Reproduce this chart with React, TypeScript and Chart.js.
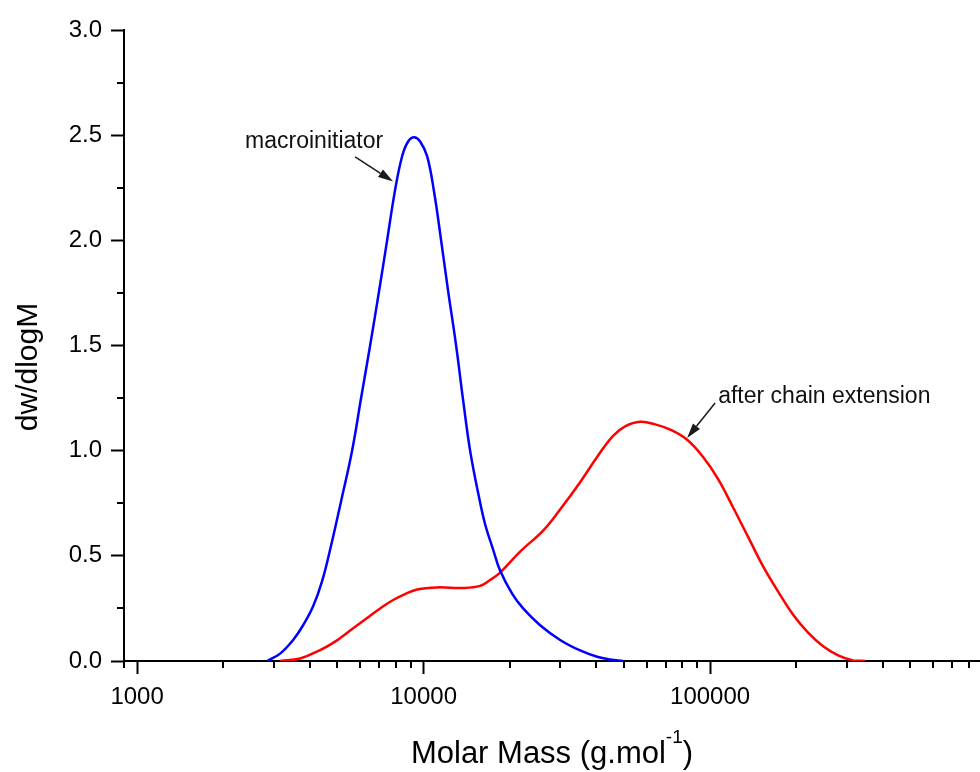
import { useEffect, useRef } from "react";
import { Chart, registerables } from "chart.js";

Chart.register(...registerables);

// GPC molar mass distributions (molar mass in g/mol, dw/dlogM)
const massMacro = [
  2843, 3156, 3504, 3797, 4115, 4423, 4718, 5152, 5628, 6050, 6506, 6994,
  7458, 7953, 8414, 8829, 9265, 9723, 10285, 10879, 11510, 12175, 12985, 13737,
  14531, 15496, 16393, 17483, 18493, 20367, 22250, 25507, 29953, 35178, 40326,
  44771, 49700,
];
const dwMacro = [
  0, 0.035, 0.1, 0.17, 0.26, 0.38, 0.53, 0.76, 1.0, 1.25, 1.5, 1.76,
  2.0, 2.24, 2.4, 2.47, 2.49, 2.47, 2.4, 2.23, 2.0, 1.76, 1.5, 1.24,
  1.0, 0.8, 0.65, 0.53, 0.43, 0.32, 0.25, 0.17, 0.1, 0.05, 0.02,
  0.007, 0,
];

const massExt = [
  3156, 3707, 4352, 4832, 5540, 6351, 7050, 7827, 8618, 9491, 11146, 13737,
  15746, 17068, 18493, 21717, 26132, 29953, 35178, 40326, 45849, 50498, 56986,
  64270, 72531, 83120, 94536, 106640, 120320, 135700, 153110, 172730, 194910,
  219780, 247990, 279800, 315600, 347500,
];
const dwExt = [
  0, 0.012, 0.052, 0.086, 0.145, 0.205, 0.25, 0.29, 0.318, 0.34, 0.35, 0.347,
  0.357, 0.385, 0.42, 0.52, 0.62, 0.72, 0.85, 0.97, 1.07, 1.115, 1.137,
  1.125, 1.1, 1.052, 0.97, 0.865, 0.73, 0.59, 0.45, 0.33, 0.22,
  0.135, 0.07, 0.027, 0.003, 0,
];

const xMajorTicks = [1000, 10000, 100000];
const yMajorTicks = [0, 0.5, 1.0, 1.5, 2.0, 2.5, 3.0];
const yMinorTicks = [0.25, 0.75, 1.25, 1.75, 2.25, 2.75];

const xTitleMain = "Molar Mass (g.mol";
const xTitleSup = "-1";
const xTitleEnd = ")";
const yTitle = "dw/dlogM";

const labelMacro = "macroinitiator";
const labelExt = "after chain extension";

const FONT = '"Liberation Sans", Arial, Helvetica, sans-serif';

// annotation anchors in data coordinates (molar mass, dw/dlogM)
const macroNote = { text: [2382, 2.44], tail: [5768, 2.397], tip: [7825, 2.28] };
const extNote = { text: [106700, 1.227], tail: [104100, 1.227], tip: [83130, 1.06] };

function drawArrow(ctx: CanvasRenderingContext2D, x1: number, y1: number, x2: number, y2: number) {
  const ang = Math.atan2(y2 - y1, x2 - x1);
  const headLen = 15;
  const headHalf = 4.5;
  const bx = x2 - headLen * Math.cos(ang);
  const by = y2 - headLen * Math.sin(ang);
  ctx.strokeStyle = "#1a1a1a";
  ctx.fillStyle = "#1a1a1a";
  ctx.lineWidth = 1.5;
  ctx.beginPath();
  ctx.moveTo(x1, y1);
  ctx.lineTo(bx, by);
  ctx.stroke();
  ctx.beginPath();
  ctx.moveTo(x2, y2);
  ctx.lineTo(bx + headHalf * Math.sin(ang), by - headHalf * Math.cos(ang));
  ctx.lineTo(bx - headHalf * Math.sin(ang), by + headHalf * Math.cos(ang));
  ctx.closePath();
  ctx.fill();
}

const decorations = {
  id: "decorations",
  afterDraw(chart: any) {
    const { ctx, chartArea } = chart;
    const x = chart.scales.x;
    const y = chart.scales.y;
    ctx.save();

    // minor ticks on the log axis
    ctx.strokeStyle = "#000";
    ctx.lineWidth = 2;
    for (const decade of [100, 1000, 10000, 100000]) {
      for (let k = 2; k <= 9; k++) {
        const v = k * decade;
        if (v < x.min || v > x.max) continue;
        const px = Math.round(x.getPixelForValue(v));
        ctx.beginPath();
        ctx.moveTo(px, chartArea.bottom);
        ctx.lineTo(px, chartArea.bottom + 7);
        ctx.stroke();
      }
    }
    // minor ticks on the value axis
    for (const v of yMinorTicks) {
      const py = Math.round(y.getPixelForValue(v));
      ctx.beginPath();
      ctx.moveTo(chartArea.left - 7, py);
      ctx.lineTo(chartArea.left, py);
      ctx.stroke();
    }

    // axis titles
    ctx.fillStyle = "#000";
    ctx.textBaseline = "alphabetic";
    ctx.textAlign = "left";
    ctx.font = `31px ${FONT}`;
    const w1 = ctx.measureText(xTitleMain).width;
    const w3 = ctx.measureText(xTitleEnd).width;
    ctx.font = `19px ${FONT}`;
    const w2 = ctx.measureText(xTitleSup).width;
    const cx = (chartArea.left + chartArea.right) / 2;
    let tx = cx - (w1 + w2 + w3) / 2;
    ctx.font = `31px ${FONT}`;
    ctx.fillText(xTitleMain, tx, 763);
    tx += w1;
    ctx.font = `19px ${FONT}`;
    ctx.fillText(xTitleSup, tx, 743);
    tx += w2;
    ctx.font = `31px ${FONT}`;
    ctx.fillText(xTitleEnd, tx, 763);

    ctx.save();
    ctx.translate(37, 367);
    ctx.rotate(-Math.PI / 2);
    ctx.textAlign = "center";
    ctx.font = `30px ${FONT}`;
    ctx.fillText(yTitle, 0, 0);
    ctx.restore();

    // annotations
    ctx.font = `23px ${FONT}`;
    ctx.textAlign = "left";
    ctx.fillStyle = "#111";
    ctx.fillText(labelMacro, x.getPixelForValue(macroNote.text[0]), y.getPixelForValue(macroNote.text[1]));
    ctx.fillText(labelExt, x.getPixelForValue(extNote.text[0]), y.getPixelForValue(extNote.text[1]));
    drawArrow(
      ctx,
      x.getPixelForValue(macroNote.tail[0]), y.getPixelForValue(macroNote.tail[1]),
      x.getPixelForValue(macroNote.tip[0]), y.getPixelForValue(macroNote.tip[1]),
    );
    drawArrow(
      ctx,
      x.getPixelForValue(extNote.tail[0]), y.getPixelForValue(extNote.tail[1]),
      x.getPixelForValue(extNote.tip[0]), y.getPixelForValue(extNote.tip[1]),
    );

    ctx.restore();
  },
};

export default function App() {
  const canvasRef = useRef<HTMLCanvasElement | null>(null);

  useEffect(() => {
    const canvas = canvasRef.current;
    if (!canvas) return;
    const tickFont = { family: FONT, size: 24 };
    const chart = new Chart(canvas, {
      type: "line",
      data: {
        datasets: [
          {
            label: labelMacro,
            data: massMacro.map((m, i) => ({ x: m, y: dwMacro[i] })),
            borderColor: "#0000ff",
            borderWidth: 2.5,
            pointRadius: 0,
            fill: false,
            tension: 0.4,
          },
          {
            label: labelExt,
            data: massExt.map((m, i) => ({ x: m, y: dwExt[i] })),
            borderColor: "#ff0000",
            borderWidth: 2.5,
            pointRadius: 0,
            fill: false,
            tension: 0.4,
          },
        ],
      },
      options: {
        animation: false,
        responsive: false,
        devicePixelRatio: 1,
        layout: { padding: { top: 30, right: 0, left: 0, bottom: 0 } },
        plugins: {
          legend: { display: false },
          tooltip: { enabled: false },
        },
        scales: {
          x: {
            type: "logarithmic",
            min: 900,
            max: 875000,
            afterBuildTicks: (s: any) => {
              s.ticks = xMajorTicks.map((v) => ({ value: v }));
            },
            afterFit: (s: any) => {
              s.height = 111;
            },
            ticks: {
              callback: (v: any) => String(v),
              font: tickFont,
              color: "#000",
              maxRotation: 0,
              autoSkip: false,
              padding: 9,
            },
            grid: {
              display: true,
              drawOnChartArea: false,
              drawTicks: true,
              tickLength: 13,
              tickWidth: 2,
              tickColor: "#000",
            },
            border: { display: true, color: "#000", width: 2 },
          },
          y: {
            type: "linear",
            min: 0,
            max: 3,
            afterBuildTicks: (s: any) => {
              s.ticks = yMajorTicks.map((v) => ({ value: v }));
            },
            afterFit: (s: any) => {
              s.width = 124;
            },
            ticks: {
              callback: (v: any) => Number(v).toFixed(1),
              font: tickFont,
              color: "#000",
              padding: 9,
            },
            grid: {
              display: true,
              drawOnChartArea: false,
              drawTicks: true,
              tickLength: 13,
              tickWidth: 2,
              tickColor: "#000",
            },
            border: { display: true, color: "#000", width: 2 },
          },
        },
      },
      plugins: [decorations],
    });
    return () => chart.destroy();
  }, []);

  return (
    <div style={{ position: "absolute", left: 0, top: 0, width: 980, height: 772, background: "#fff" }}>
      <canvas ref={canvasRef} width={980} height={772} />
    </div>
  );
}
